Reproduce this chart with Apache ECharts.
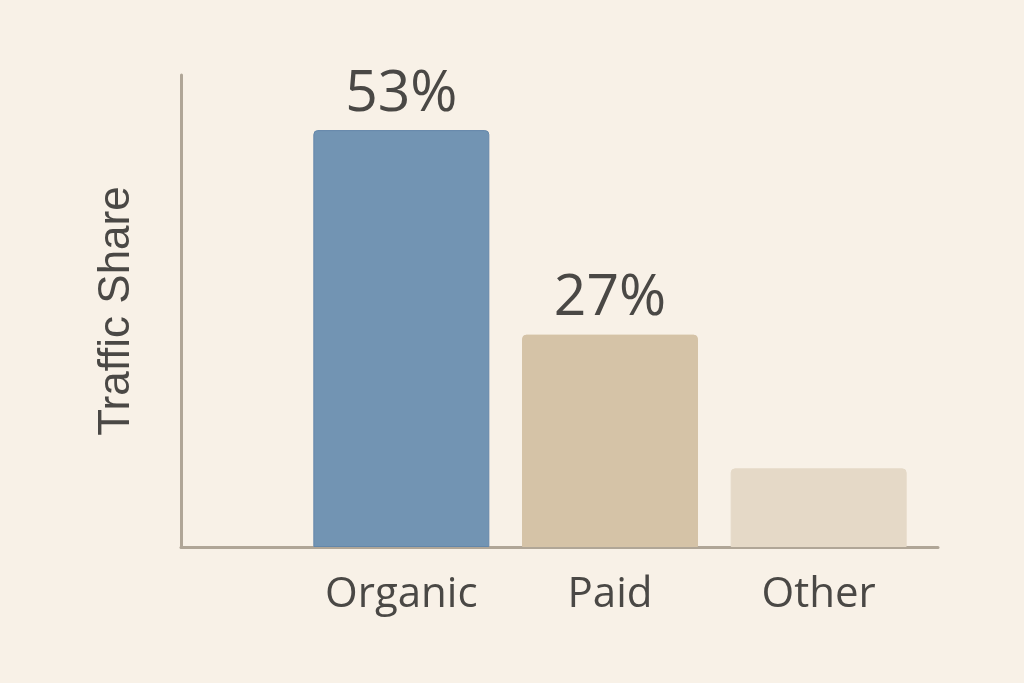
<!DOCTYPE html>
<html>
<head>
<meta charset="utf-8">
<script src="https://cdn.jsdelivr.net/npm/echarts@6/dist/echarts.min.js"></script>
<style>
  html, body { margin: 0; padding: 0; background: #f8f1e7; }
  #chart { width: 1024px; height: 683px; }
</style>
</head>
<body>
<div id="chart"></div>
<script>
  // chart data
  const categories = ['Organic', 'Paid', 'Other'];
  const shares = [53, 27, 10];
  const barColors = ['#7294b3', '#d5c3a7', '#e5d9c7'];
  const showLabel = [true, true, false];

  const textColor = '#4a4845';
  const axisColor = '#b0a697';

  const myChart = echarts.init(document.getElementById('chart'));

  const option = {
    backgroundColor: '#f8f1e7',
    animation: false,
    grid: [
      { left: 297, right: 101, top: 75, bottom: 136 },
      // second grid only carries the long baseline under the bars
      { left: 181, right: 86, top: 75, bottom: 136 }
    ],
    xAxis: [
      {
        type: 'category',
        data: categories,
        gridIndex: 0,
        axisLine: { show: false },
        axisTick: { show: false },
        axisLabel: {
          color: textColor,
          fontSize: 42,
          fontFamily: 'Open Sans, Liberation Sans, sans-serif',
          margin: 27
        }
      },
      {
        type: 'value',
        gridIndex: 1,
        min: 0,
        max: 1,
        axisLine: { show: true, lineStyle: { color: axisColor, width: 3, cap: 'round' } },
        axisTick: { show: false },
        axisLabel: { show: false },
        splitLine: { show: false }
      }
    ],
    yAxis: [
      {
        type: 'value',
        gridIndex: 0,
        min: 0,
        max: 60,
        offset: 116,
        name: 'Traffic Share',
        nameLocation: 'middle',
        nameGap: 42,
        nameTextStyle: {
          color: textColor,
          fontSize: 44,
          fontFamily: 'Liberation Sans, Arial, sans-serif'
        },
        axisLine: { show: true, lineStyle: { color: axisColor, width: 3, cap: 'round' } },
        axisTick: { show: false },
        axisLabel: { show: false },
        splitLine: { show: false }
      },
      {
        type: 'value',
        gridIndex: 1,
        show: false
      }
    ],
    series: [{
      type: 'bar',
      xAxisIndex: 0,
      yAxisIndex: 0,
      barWidth: 176,
      data: shares.map(function (v, i) {
        return {
          value: v,
          itemStyle: {
            color: barColors[i],
            borderColor: i === 0 ? '#6487aa' : barColors[i],
            borderWidth: 1
          },
          label: { show: showLabel[i] }
        };
      }),
      itemStyle: { borderRadius: [4, 4, 0, 0] },
      label: {
        position: 'top',
        distance: 7,
        color: textColor,
        fontSize: 57,
        fontFamily: 'Open Sans, Liberation Sans, sans-serif',
        formatter: '{c}%'
      }
    }]
  };

  myChart.setOption(option);
</script>
</body>
</html>
